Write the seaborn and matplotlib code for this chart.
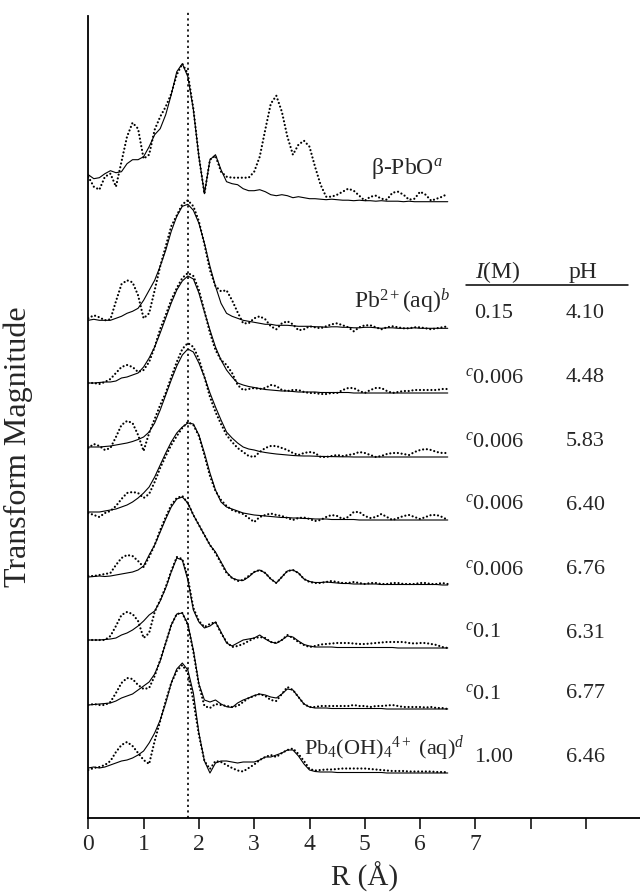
import numpy as np
import pandas as pd
import matplotlib
matplotlib.use("Agg")
import matplotlib.pyplot as plt
import seaborn as sns

r_grid = np.round(np.arange(0, 6.55, 0.1), 1)

# transform magnitudes above each curve's own baseline (fit = solid, data = dotted)
beta_pbo_fit = [27, 23, 24, 28, 31, 29, 30, 38, 42, 42,
                45, 55, 67, 73, 87, 107, 130, 138, 125, 92,
                45, 8, 42, 47, 32, 20, 18, 17, 13, 11,
                11, 12, 10, 7, 6, 7, 6, 4, 5, 4,
                3, 3, 2.5, 2, 2.5, 2, 1.5, 1.5, 1, 1.5,
                1, 1, 0.5, 1, 0.5, 0.5, 0.5, 0, 0.5, 0,
                0, 0, 0, 0, 0, 0]
beta_pbo_data = [25, 15, 12, 25, 28, 15, 40, 65, 79, 73,
                 43, 47, 72, 85, 95, 108, 127, 138, 128, 93,
                 45, 8, 42, 46, 30, 25, 24, 24, 24, 24,
                 30, 45, 72, 98, 106, 90, 65, 47, 57, 61,
                 55, 35, 17, 5, 5, 7, 10, 13, 11, 6,
                 1, 5, 6, 3, 2, 9, 10, 7, 2, 3,
                 10, 7, 1, 3, 5, 8]

pb_aq_fit = [8, 9, 8, 8, 8, 10, 12, 15, 17, 20,
             28, 38, 48, 62, 78, 97, 112, 122, 124, 118,
             105, 85, 62, 42, 25, 15, 12, 10, 8, 7,
             6, 5, 4, 4, 3, 3, 3, 2.5, 2, 2,
             2, 1.5, 1.5, 1, 1.5, 1.5, 1, 1, 0.5, 0.5,
             1, 1, 0.5, 0, 0.5, 0.5, 0, 0, 0, 0.5,
             0, 0, 0, 0, 0, 0]
pb_aq_data = [10, 13, 11, 8, 9, 27, 44, 48, 46, 33,
              10, 15, 38, 62, 82, 102, 113, 124, 128, 122,
              107, 84, 58, 42, 37, 38, 28, 16, 5, 5,
              10, 12, 9, 2, -1, 5, 7, 4, -2, -1,
              2, 1, 0, 2, 4, 5, 3, 1, -3, 1,
              3, 3, 1, -1, 1, 2, 1, 0, 0, 1,
              1, 0, -1, 0, 1, 2]

ph448_fit = [10, 10, 10.5, 11, 11, 12, 15, 16, 18, 20,
             26, 35, 46, 60, 75, 90, 103, 112, 117, 114,
             100, 81, 63, 46, 33, 23, 16, 10, 8, 6.5,
             5.5, 4.5, 3.5, 3, 2.5, 2, 2, 1.5, 1, 1,
             1, 1, 0.5, 0.5, 0.5, 0.5, 0.5, 0.5, 0, 0,
             0, 0, 0, 0, 0, 0, 0, 0, 0, 0,
             0, 0, 0, 0, 0, 0]
ph448_data = [10, 10, 9, 11, 14, 20, 26, 28, 26, 21,
              23, 31, 46, 64, 78, 93, 105, 115, 120, 117,
              103, 82, 60, 43, 33, 28, 20, 8, 3, 4,
              5, 4, 5, 8, 7, 3, 2, 3, 3, 1,
              0, 0, -1, -1, 0, 0, 3, 5, 5, 2,
              0, 3, 5, 5, 2, 0, 1, 2, 2, 3,
              3, 3, 3, 3, 4, 4]

ph583_fit = [10, 10, 10, 10.5, 11, 12, 13, 14, 15.5, 17.5,
             20, 25, 34, 47, 62, 77, 91, 102, 108, 105,
             94, 80, 64, 50, 37, 25, 19, 14, 10, 8,
             7, 5.5, 4.5, 3.7, 3, 2.5, 2, 1.5, 1.2, 1,
             1, 0.8, 0.6, 0.5, 0.4, 0.3, 0.2, 0.2, 0, 0,
             0, 0, 0, 0, 0, 0, 0, 0, 0, 0,
             0, 0, 0, 0, 0, 0]
ph583_data = [9, 13, 11, 7, 9, 20, 32, 36, 34, 22,
              6, 24, 38, 52, 64, 80, 95, 108, 114, 110,
              98, 80, 60, 45, 33, 22, 15, 9, 5, 1,
              0, 5, 9, 11, 11, 9, 7, 4, 2, 4,
              5, 4, 0, 0, 1, 2, 1, 2, 3, 5,
              4, 2, 0, 1, 3, 4, 4, 3, 2, 5,
              7, 8, 7, 5, 4, 4]

ph640_fit = [8, 8, 8, 9, 10, 11, 13, 15, 18, 22,
             27, 33, 43, 55, 67, 78, 87, 93, 97, 96,
             85, 67, 47, 30, 18, 13, 11, 9, 7, 6,
             5, 4.5, 4, 3.5, 3, 2.5, 2.5, 2, 2, 1.5,
             1.5, 1, 1, 1, 0.5, 0.5, 0.5, 0.5, 0.5, 0,
             0, 0, 0, 0, 0, 0, 0, 0, 0, 0,
             0, 0, 0, 0, 0, 0]
ph640_data = [7, 5, 3, 7, 9, 14, 21, 27, 28, 27,
              22, 26, 38, 52, 64, 75, 84, 92, 98, 95,
              84, 65, 44, 29, 20, 14, 10, 8, 6, 2,
              -2, 3, 5, 6.5, 5, 4, 2, 0, 2, 2.5,
              1, -1, 0, 3, 5, 4, 1, 3, 8, 8,
              4, 2, 3, 6, 3, 0, 2, 4, 5, 3,
              1, 3, 5, 5, 3, 0]

ph676_fit = [8, 8.5, 9, 8.5, 9, 10, 11, 12, 13, 15,
             19, 30, 40, 53, 66, 78, 86, 88, 82, 70,
             60, 50, 40, 33, 23, 13, 7, 5, 4.5, 8,
             13, 15, 12, 6, 2, 8, 14, 15, 12, 6,
             3.5, 2.5, 2.5, 3, 2.5, 2, 1.5, 1.5, 1, 1,
             1, 1, 1, 0.5, 0.5, 0.5, 0.5, 0.5, 0.5, 0.5,
             0.5, 0.5, 0.5, 0.5, 0, 0]
ph676_data = [9, 9, 10, 11, 12, 20, 27, 30, 29, 24,
              18, 28, 40, 55, 68, 80, 87, 89, 82, 70,
              60, 50, 40, 32, 22, 12, 7, 4, 5, 9,
              13, 15, 12, 6, 2, 8, 14, 15, 12, 6,
              3, 2, 2, 3, 4, 3, 2, 2, 3, 2,
              1, 2, 2, 1, 1, 2, 2, 1, 1, 1,
              2, 2, 1, 1, 2, 1]

ph631_fit = [8, 8, 8, 8.5, 9, 10, 13, 15, 18, 22,
             27, 33, 37, 47, 60, 76, 90, 88, 68, 38,
             26, 20, 22, 26, 16, 5, 2, 5, 8, 9,
             10, 13, 9, 6, 4.7, 8, 12, 11, 7, 3.5,
             2, 1, 1, 1, 1, 0.5, 0.5, 0.5, 0.5, 0.5,
             0.5, 0.5, 0.5, 0.5, 0.5, 0.5, 0, 0, 0, 0,
             0, 0, 0, 0, 0, 0]
ph631_data = [8, 8, 8, 8, 12, 22, 33, 36, 34, 27,
              10, 15, 36, 48, 61, 77, 91, 89, 70, 40,
              27, 21, 24, 26, 15, 6, 1, 2, 4, 7,
              9.7, 11, 10, 6, 5, 8, 13, 10, 6, 3,
              1, 2, 3.5, 4, 4.5, 5, 5, 5, 4.5, 4,
              4, 4.5, 5, 5.5, 6, 6, 6, 6, 5, 4.5,
              5, 5, 4, 3, 1, 0]

ph677_fit = [4, 4.5, 5, 5.5, 6, 8, 11, 13, 15, 19,
             23, 27, 35, 48, 66, 84, 95, 96, 85, 59,
             25, 9, 7, 9, 5, 2.3, 1.5, 6, 9, 11,
             13.5, 15, 14, 12, 11, 15, 20, 19, 12, 5,
             2, 1, 1, 1, 0.5, 0.5, 0.5, 0.5, 0.5, 0.5,
             0.5, 0.5, 0.5, 0.5, 0, 0, 0, 0, 0, 0,
             0, 0, 0, 0, 0, 0]
ph677_data = [4, 5, 4, 4, 7, 16, 26, 31, 30, 24,
              20, 21, 33, 49, 66, 84, 95, 96, 84, 57,
              24, 3, 1, 5, 4, 3, 2, 3, 7, 11,
              13, 15, 13, 9, 8, 15, 22, 19, 12, 5,
              2, 2, 3, 3, 3, 3, 3, 3, 4, 3,
              3, 2, 3, 3, 3.5, 4, 3, 2, 2, 2,
              2, 1.5, 2, 1, 1, 0]

tetramer_fit = [5, 6, 5, 6, 8, 10, 12, 13, 15, 18,
                22, 30, 40, 53, 70, 90, 104, 110, 103, 80,
                40, 12, 0, 10, 12, 12, 11, 10, 11, 11,
                11, 13, 16, 16, 18, 20, 23, 23, 17, 9,
                3, 1.5, 1, 1, 1, 0.5, 0.5, 0.5, 0.5, 0.5,
                0.5, 0.5, 0.5, 0.5, 0, 0, 0, 0, 0, 0,
                0, 0, 0, 0, 0, 0]
tetramer_data = [3, 5, 6, 8, 12, 21, 28, 31, 27, 20,
                 13, 9, 32, 52, 72, 90, 102, 108, 100, 72,
                 38, 12, 4, 12, 11, 8, 5, 2.5, 1.5, 5,
                 8.5, 13, 16, 18, 16, 20, 23, 24.5, 19, 12,
                 4, 2.5, 3, 3.5, 3.5, 4, 4.5, 4.5, 4.5, 4.5,
                 4.5, 4, 3.5, 3, 2.5, 2, 2, 2, 1.5, 1.5,
                 1.5, 1.5, 1.5, 1, 1, 0.7]

fits = [beta_pbo_fit, pb_aq_fit, ph448_fit, ph583_fit, ph640_fit,
        ph676_fit, ph631_fit, ph677_fit, tetramer_fit]
datas = [beta_pbo_data, pb_aq_data, ph448_data, ph583_data, ph640_data,
         ph676_data, ph631_data, ph677_data, tetramer_data]
# vertical stacking offset of each curve (same units as the magnitudes)
offsets = [616.6, 490, 425.3, 361.3, 298.3, 233.3, 170.3, 109.3, 45.3]

# table on the right (rows belong to curves 2..9)
ionic_strength = ["0.15", "$^c$0.006", "$^c$0.006", "$^c$0.006", "$^c$0.006",
                  "$^c$0.1", "$^c$0.1", "1.00"]
ph_values = ["4.10", "4.48", "5.83", "6.40", "6.76", "6.31", "6.77", "6.46"]

rows = []
for i, (f, d) in enumerate(zip(fits, datas)):
    assert len(f) == len(r_grid) and len(d) == len(r_grid)
    for r, yf, yd in zip(r_grid, f, d):
        rows.append({"curve": i, "R": r, "kind": "fit", "mag": yf + offsets[i]})
        rows.append({"curve": i, "R": r, "kind": "data", "mag": yd + offsets[i]})
df = pd.DataFrame(rows)

sns.set_theme(style="white")
plt.rcParams["font.family"] = ["Liberation Serif", "DejaVu Serif"]
plt.rcParams["mathtext.fontset"] = "custom"
plt.rcParams["mathtext.rm"] = "Liberation Serif"
plt.rcParams["mathtext.it"] = "Liberation Serif:italic"
plt.rcParams["mathtext.bf"] = "Liberation Serif:bold"

fig = plt.figure(figsize=(6.4, 8.92), dpi=100)
ax = fig.add_axes([88.3 / 640, 73.7 / 892, 553 / 640, 802.3 / 892])

for i in range(len(fits)):
    sub = df[df["curve"] == i]
    sns.lineplot(data=sub[sub["kind"] == "fit"], x="R", y="mag", ax=ax,
                 color="black", linewidth=0.8)
    sns.lineplot(data=sub[sub["kind"] == "data"], x="R", y="mag", ax=ax,
                 color="black", linewidth=1.6, linestyle=(0, (0.01, 1.7)),
                 dash_capstyle="round")

ax.axvline(1.81, ymin=0, ymax=1.005, color="black", linewidth=1.2,
           linestyle=(0, (1.3, 2.0)), clip_on=False)

ax.set_xlim(0, 10)
ax.set_ylim(0, 802.3)
ax.set_yticks([])
ax.set_xticks(range(10))
ax.set_xticklabels([str(t) if t <= 7 else "" for t in range(10)])
ax.tick_params(axis="x", direction="out", length=8, width=1.1, pad=3,
               labelsize=17, color="black", bottom=True)
for side in ["top", "right"]:
    ax.spines[side].set_visible(False)
for side in ["left", "bottom"]:
    ax.spines[side].set_color("black")
    ax.spines[side].set_linewidth(1.3)

ax.set_xlabel("R (Å)", fontsize=21, labelpad=5)
ax.set_ylabel("Transform Magnitude", fontsize=23)
ax.yaxis.set_label_coords(-0.10, 0.463)

# curve labels
ax.text(6.40, offsets[0] + 28, "β-PbO$^{a}$", ha="right", va="baseline", fontsize=17)
ax.text(6.54, offsets[1] + 20, "Pb$^{2+}$(aq)$^{b}$", ha="right", va="baseline", fontsize=17)
ax.text(3.9, offsets[8] + 18, "Pb$_4$(OH)$_4$$^{4+}$ (aq)$^{d}$", ha="left",
        va="baseline", fontsize=16)

# table
ax.text(7.0, 540.6, "$I$(M)", ha="left", va="baseline", fontsize=17)
ax.text(8.68, 540.6, "pH", ha="left", va="baseline", fontsize=17)
ax.plot([6.83, 9.76], [533.3, 533.3], color="black", linewidth=1.1, clip_on=False)
for k, (ion, ph) in enumerate(zip(ionic_strength, ph_values)):
    y = offsets[k + 1] + 10.5
    x = 6.82 if ion.startswith("$") else 6.98
    ax.text(x, y, ion, ha="left", va="baseline", fontsize=16)
    ax.text(8.64, y, ph, ha="left", va="baseline", fontsize=16)

fig.savefig("out.png", dpi=100)
